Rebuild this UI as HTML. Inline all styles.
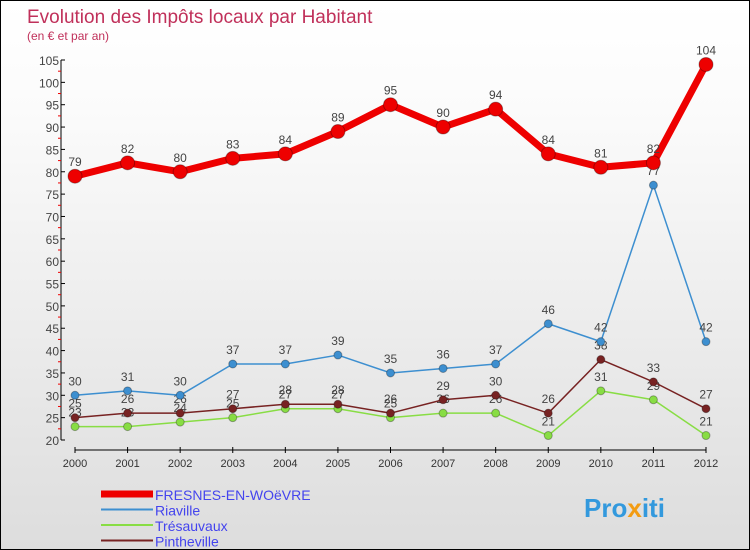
<!DOCTYPE html>
<html><head><meta charset="utf-8"><style>
body{margin:0;}
#c{width:748px;height:548px;border:1px solid #000;position:relative;background:linear-gradient(#fff,#fbfbfb 20%,#ddd);font-family:"Liberation Sans",sans-serif;overflow:hidden}
</style></head><body>
<div id="c">
<svg id="s" width="748" height="548">
<text x="26" y="22" font-size="19" fill="#c0305a">Evolution des Impôts locaux par Habitant</text>
<text x="26" y="39" font-size="12" fill="#c0305a">(en € et par an)</text>
<text x="583" y="516" font-size="26" font-weight="bold" fill="#3399dd">Pro<tspan fill="#f39c12">x</tspan>iti</text>
</svg></div>
<script>
const years=[2000,2001,2002,2003,2004,2005,2006,2007,2008,2009,2010,2011,2012];
const fresnes=[79,82,80,83,84,89,95,90,94,84,81,82,104];
const riaville=[30,31,30,37,37,39,35,36,37,46,42,77,42];
const tresauvaux=[23,23,24,25,27,27,25,26,26,21,31,29,21];
const pintheville=[25,26,26,27,28,28,26,29,30,26,38,33,27];
const yTicks=[20,25,30,35,40,45,50,55,60,65,70,75,80,85,90,95,100,105];
const NS="http://www.w3.org/2000/svg",s=document.getElementById('s');
const X=i=>74+i*(631/(years.length-1));
const Y=v=>439-(v-20)*(380/85);
function el(t,a,p){const e=document.createElementNS(NS,t);for(const k in a)e.setAttribute(k,a[k]);(p||s).appendChild(e);return e;}
let ax=el('line',{x1:60,y1:Y(105),x2:60,y2:Y(20),stroke:'#000'});


let bx=el('line',{x1:74,y1:449,x2:705,y2:449,stroke:'#000'});


yTicks.forEach(v=>{el('line',{x1:60,y1:Y(v),x2:64,y2:Y(v),stroke:'#000'});
if(v<105)el('line',{x1:57,y1:Y(v+2.5),x2:60,y2:Y(v+2.5),stroke:'#e00'});
const t=el('text',{x:58,y:Y(v)+5,'font-size':12,fill:'#444','text-anchor':'end'});t.textContent=v;

});
years.forEach((y,i)=>{el('line',{x1:X(i),y1:446,x2:X(i),y2:452,stroke:'#000'});
const t=el('text',{x:X(i),y:466,'font-size':11,fill:'#333','text-anchor':'middle'});t.textContent=y;

});
function series(d,c,w,r,name){
const g=el('g',{});


el('polyline',{points:d.map((v,i)=>X(i)+','+Y(v)).join(' '),fill:'none',stroke:c,'stroke-width':w,'stroke-linejoin':'round'},g);
d.forEach((v,i)=>{const p=el('circle',{cx:X(i),cy:Y(v),r:r,fill:c,stroke:'rgba(0,0,0,0.3)'},g);


const t=el('text',{x:X(i),y:Y(v)-10,'font-size':12,fill:'#444','text-anchor':'middle'},g);t.textContent=v;});
}
series(tresauvaux,'#88dd44',1.5,4,'series-tresauvaux');
series(pintheville,'#772222',1.5,4,'series-pintheville');
series(riaville,'#3d8fd0',1.5,4,'series-riaville');
series(fresnes,'#ee0000',7,7,'series-fresnes');
const leg=[['FRESNES-EN-WOëVRE','#ee0000',7],['Riaville','#3d8fd0',2],['Trésauvaux','#88dd44',2],['Pintheville','#772222',2]];
leg.forEach((l,i)=>{const y=493+i*15.5;
const g=el('g',{});


el('line',{x1:100,y1:y,x2:152,y2:y,stroke:l[1],'stroke-width':l[2]},g);
const t=el('text',{x:154,y:y+6,'font-size':14,fill:'#4444ee'},g);t.textContent=l[0];});
</script></body></html>
